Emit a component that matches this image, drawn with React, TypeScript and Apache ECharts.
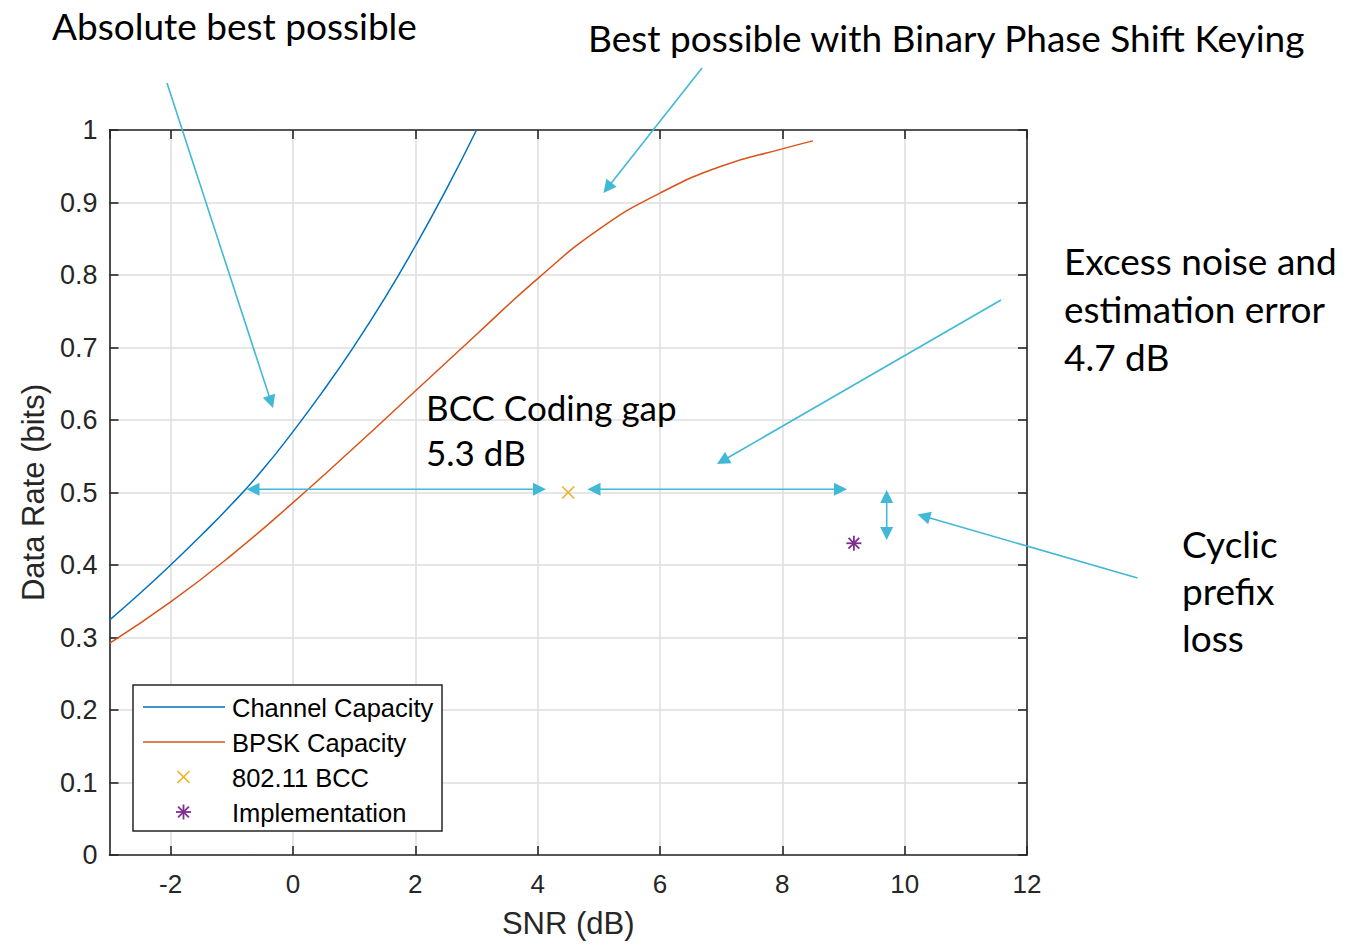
import React, { useEffect, useRef } from "react";
import * as echarts from "echarts";

// ---- data ----
const snrChannel = [-3, -2.5, -2, -1.5, -1, -0.5, 0, 0.5, 1, 1.5, 2, 2.5, 3];
const rateChannel = [0.324, 0.361, 0.4, 0.441, 0.484, 0.531, 0.584, 0.641, 0.702, 0.768, 0.84, 0.917, 1.0];
const snrBpsk = [-3, -2, -1, 0, 1, 2, 3, 4, 5, 6, 7, 8, 8.5];
const rateBpsk = [0.292, 0.349, 0.414, 0.486, 0.562, 0.64, 0.718, 0.795, 0.863, 0.913, 0.95, 0.974, 0.985];
const bccPoint = [4.5, 0.5];
const implPoint = [9.17, 0.43];
const seriesNames = ["Channel Capacity", "BPSK Capacity", "802.11 BCC", "Implementation"];
const seriesColors = ["#0072BD", "#D95319", "#EDB120", "#7E2F8E"];
const xRange = [-3, 12];
const yRange = [0, 1];

const ARROW = "#41B8D5";
const AXIS = "#262626";
const ANNOT_FONT = "Lato";
const TICK_FONT = "Liberation Sans";

function arrow(x1: number, y1: number, x2: number, y2: number, startHead: boolean, endHead: boolean) {
  const L = 13, W = 6.5;
  const dx = x2 - x1, dy = y2 - y1;
  const len = Math.sqrt(dx * dx + dy * dy);
  const ux = dx / len, uy = dy / len;
  const nx = -uy, ny = ux;
  const els: any[] = [];
  const sx = startHead ? x1 + ux * (L - 1) : x1;
  const sy = startHead ? y1 + uy * (L - 1) : y1;
  const ex = endHead ? x2 - ux * (L - 1) : x2;
  const ey = endHead ? y2 - uy * (L - 1) : y2;
  els.push({ type: "line", z: 50, shape: { x1: sx, y1: sy, x2: ex, y2: ey }, style: { stroke: ARROW, lineWidth: 1.6 }, silent: true });
  const head = (tx: number, ty: number, vx: number, vy: number) => {
    const bx = tx - vx * L, by = ty - vy * L;
    els.push({
      type: "polygon",
      z: 50,
      shape: { points: [[tx, ty], [bx + nx * W, by + ny * W], [bx - nx * W, by - ny * W]] },
      style: { fill: ARROW },
      silent: true,
    });
  };
  if (endHead) head(x2, y2, ux, uy);
  if (startHead) head(x1, y1, -ux, -uy);
  return els;
}

function xMarker(cx: number, cy: number, s: number, color: string, z = 0) {
  return [
    { type: "line", z, shape: { x1: cx - s, y1: cy - s, x2: cx + s, y2: cy + s }, style: { stroke: color, lineWidth: 1.6 } },
    { type: "line", z, shape: { x1: cx - s, y1: cy + s, x2: cx + s, y2: cy - s }, style: { stroke: color, lineWidth: 1.6 } },
  ];
}

function starMarker(cx: number, cy: number, s: number, color: string, z = 0) {
  const d = s * 0.72;
  return [
    { type: "line", z, shape: { x1: cx, y1: cy - s, x2: cx, y2: cy + s }, style: { stroke: color, lineWidth: 1.8 } },
    { type: "line", z, shape: { x1: cx - s, y1: cy, x2: cx + s, y2: cy }, style: { stroke: color, lineWidth: 1.8 } },
    { type: "line", z, shape: { x1: cx - d, y1: cy - d, x2: cx + d, y2: cy + d }, style: { stroke: color, lineWidth: 1.8 } },
    { type: "line", z, shape: { x1: cx - d, y1: cy + d, x2: cx + d, y2: cy - d }, style: { stroke: color, lineWidth: 1.8 } },
  ];
}

function annot(text: string, x: number, y: number, size = 37) {
  return {
    type: "text",
    silent: true,
    z: 50,
    style: {
      text,
      x,
      y,
      fill: "#000",
      fontFamily: ANNOT_FONT,
      fontSize: size,
      textAlign: "left",
      textVerticalAlign: "middle",
    },
  };
}

export default function App() {
  const ref = useRef<HTMLDivElement>(null);
  useEffect(() => {
    document.body.style.margin = "0";
    const chart = echarts.init(ref.current!, undefined, { renderer: "svg" });

    const legendX = 133, legendY = 685, legendW = 309, legendH = 146;
    const rows = [707, 742, 777, 812];
    const LZ = 100;
    const legendEls: any[] = [
      { type: "rect", z: LZ, shape: { x: legendX, y: legendY, width: legendW, height: legendH }, style: { fill: "#fff", stroke: AXIS, lineWidth: 1.5 } },
      { type: "line", z: LZ + 1, shape: { x1: 143, y1: rows[0], x2: 225, y2: rows[0] }, style: { stroke: seriesColors[0], lineWidth: 1.5 } },
      { type: "line", z: LZ + 1, shape: { x1: 143, y1: rows[1], x2: 225, y2: rows[1] }, style: { stroke: seriesColors[1], lineWidth: 1.5 } },
      ...xMarker(183.5, rows[2], 6, seriesColors[2], LZ + 1),
      ...starMarker(183.5, rows[3], 7.5, seriesColors[3], LZ + 1),
      ...seriesNames.map((n, i) => ({
        type: "text",
        z: LZ + 1,
        style: {
          text: n,
          x: 232,
          y: rows[i] + 1,
          fill: "#000",
          fontFamily: TICK_FONT,
          fontSize: 25.5,
          textAlign: "left",
          textVerticalAlign: "middle",
        },
      })),
    ];

    const arrows = [
      ...arrow(167, 83, 273, 408, false, true),
      ...arrow(702, 68, 603.5, 193, false, true),
      ...arrow(246.5, 489.3, 546, 489.3, true, true),
      ...arrow(587.5, 489.3, 847, 489.3, true, true),
      ...arrow(1001, 300, 717, 464, false, true),
      ...arrow(886.7, 490, 886.7, 540, true, true),
      ...arrow(1137.5, 578, 917.5, 514.5, false, true),
    ];

    const texts = [
      annot("Absolute best possible", 52, 25),
      annot("Best possible with Binary Phase Shift Keying", 588, 37),
      annot("Excess noise and", 1064, 260),
      annot("estimation error", 1064, 308),
      annot("4.7 dB", 1064, 356),
      annot("BCC Coding gap", 426, 407, 35),
      annot("5.3 dB", 426, 452, 35),
      annot("Cyclic", 1182, 543),
      annot("prefix", 1182, 590),
      annot("loss", 1182, 637),
    ];

    const axisCommon = {
      type: "value",
      axisLine: { show: true, onZero: false, lineStyle: { color: AXIS, width: 1.6 } },
      axisTick: { show: true, inside: true, length: 9, lineStyle: { color: AXIS, width: 1.6 } },
    };

    const markerSeries = (name: string, pt: number[], kind: "x" | "star", color: string) => ({
      type: "custom",
      name,
      data: [pt],
      encode: { x: 0, y: 1 },
      z: 5,
      renderItem: (_p: any, api: any) => {
        const c = api.coord([api.value(0), api.value(1)]);
        const children = kind === "x" ? xMarker(c[0], c[1], 6, color) : starMarker(c[0], c[1], 7.5, color);
        return { type: "group", children };
      },
    });

    chart.setOption({
      animation: false,
      backgroundColor: "#fff",
      grid: { left: 109.5, right: 332, top: 130, bottom: 92, containLabel: false },
      xAxis: [
        {
          ...axisCommon,
          position: "bottom",
          min: xRange[0],
          max: xRange[1],
          minInterval: 2,
          maxInterval: 2,
          name: "SNR (dB)",
          nameLocation: "middle",
          nameGap: 53,
          nameTextStyle: { fontFamily: TICK_FONT, fontSize: 31, color: AXIS },
          axisLabel: { show: true, showMinLabel: false, margin: 16, fontFamily: TICK_FONT, fontSize: 26, color: AXIS },
          splitLine: { show: true, lineStyle: { color: "#dedede", width: 1.5 } },
        },
        {
          ...axisCommon,
          position: "top",
          min: xRange[0],
          max: xRange[1],
          minInterval: 2,
          maxInterval: 2,
          axisLabel: { show: false },
          splitLine: { show: false },
        },
      ],
      yAxis: [
        {
          ...axisCommon,
          position: "left",
          min: yRange[0],
          max: yRange[1],
          interval: 0.1,
          name: "Data Rate (bits)",
          nameLocation: "middle",
          nameGap: 61,
          nameTextStyle: { fontFamily: TICK_FONT, fontSize: 31, color: AXIS },
          axisLabel: { show: true, margin: 12, fontFamily: TICK_FONT, fontSize: 27, color: AXIS },
          splitLine: { show: true, lineStyle: { color: "#dedede", width: 1.5 } },
        },
        {
          ...axisCommon,
          position: "right",
          min: yRange[0],
          max: yRange[1],
          interval: 0.1,
          axisLabel: { show: false },
          splitLine: { show: false },
        },
      ],
      series: [
        {
          type: "line",
          name: seriesNames[0],
          data: snrChannel.map((x, i) => [x, rateChannel[i]]),
          smooth: 0.5,
          showSymbol: false,
          symbol: "none",
          lineStyle: { color: seriesColors[0], width: 1.5 },
          z: 3,
        },
        {
          type: "line",
          name: seriesNames[1],
          data: snrBpsk.map((x, i) => [x, rateBpsk[i]]),
          smooth: 0.5,
          showSymbol: false,
          symbol: "none",
          lineStyle: { color: seriesColors[1], width: 1.5 },
          z: 3,
        },
        markerSeries(seriesNames[2], bccPoint, "x", seriesColors[2]),
        markerSeries(seriesNames[3], implPoint, "star", seriesColors[3]),
      ],
      graphic: [...arrows, ...texts, ...legendEls],
    });
    return () => chart.dispose();
  }, []);
  return <div ref={ref} style={{ width: 1359, height: 947, position: "absolute", left: 0, top: 0 }} />;
}
